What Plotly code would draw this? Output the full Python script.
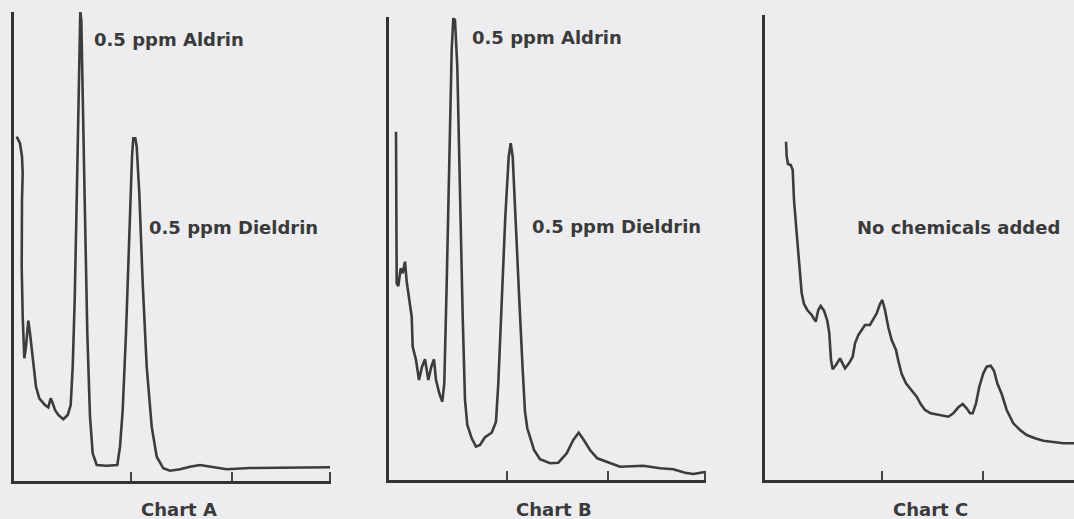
import plotly.graph_objects as go

# Chart A: retention (x) and detector response (y)
a_time = [2.7, 6.0, 8.0, 8.7, 8.0, 7.7, 8.7, 10.3, 12, 14.3, 16, 17.7, 19.3, 22, 25.3, 31, 34.3, 36.7,
          38.7, 41, 44.3, 49.3, 53.7, 56.7, 58.7, 60.7, 62.7, 64.3, 65.7, 66.3, 67.3, 68.7, 70.7, 73.3,
          76, 78.7, 82.7, 92.7, 103.3, 106, 108.7, 112, 115.3, 118, 119.3, 121.3, 122.7, 125.3, 128.7,
          132.7, 137.7, 142.7, 149.3, 156, 166, 176, 186, 196, 212.7, 236, 269.3, 316]
a_resp = [344.3, 337.7, 324.3, 307.7, 281, 214.3, 164.3, 122.7, 134.3, 160.3, 147.7, 132.7, 114.3, 94.3,
          82.7, 76, 73.7, 82.7, 77.7, 71, 66, 61.7, 66, 76, 114.3, 181, 281, 381, 447.7, 469.3, 461,
          397.7, 281, 147.7, 64.3, 27.7, 16, 15.3, 16, 34.3, 71, 147.7, 247.7, 324.3, 342.7, 342.7,
          334.3, 287.7, 197.7, 114.3, 54.3, 24.3, 12.7, 10.3, 11.7, 14.3, 16, 14.3, 11.7, 13, 13.3, 13.7]

# Chart B
b_time = [7, 7, 7, 7.7, 9.3, 11.7, 13.7, 16, 17.7, 20.3, 22.7, 23.7, 27, 30, 33, 36, 39.3, 42.3, 45, 47,
          50.3, 53.3, 55.3, 57.7, 60.3, 62.7, 64.3, 66, 68.3, 71, 73.7, 76, 78.3, 82.7, 87, 91, 96, 102.7,
          107, 109.3, 112.7, 116.3, 119.7, 121.7, 123.7, 127, 130.3, 133.7, 136, 138.3, 141.7, 145, 151,
          161, 169.3, 177.7, 184.3, 189.7, 194.3, 201, 208.3, 217.7, 231, 254.3, 271, 284.3, 296, 304.3, 316]
b_resp = [348.3, 280, 216.7, 196.7, 194, 211.7, 206.7, 218.3, 198.3, 180, 163.3, 133.3, 120, 100, 113.3,
          120.7, 100, 113.3, 120.7, 100, 86.7, 78.3, 96.7, 196.7, 330, 430, 461.7, 460, 413.3, 280, 163.3,
          80, 55, 41.7, 33.3, 35, 42.7, 47.3, 58.3, 96.7, 180, 263.3, 323.3, 336.7, 323.3, 246.7, 180,
          110, 68.3, 51.7, 41.7, 30, 20.7, 16.7, 17.3, 26.7, 40, 47.3, 40.7, 30, 21.7, 18.3, 13.3, 14.3,
          11.7, 10.7, 7.3, 6, 8]

# Chart C
c_time = [21, 21.7, 23, 25.7, 27.7, 29, 31.7, 34.3, 36.7, 39, 42.3, 46.7, 50.7, 53.3, 55.7, 59, 62.3,
          64.3, 66, 67.7, 71, 75, 77.7, 80, 84, 87.7, 90, 93.3, 96.7, 100, 105, 108.3, 111.7, 115, 117.3,
          120, 123.3, 126.7, 131, 133.3, 136.7, 141, 146.7, 151.7, 155.7, 160, 165.7, 175, 183.3, 188.3,
          193.3, 197.7, 201.7, 205, 207.7, 211, 214.3, 218.3, 221.7, 225.7, 229, 232.3, 236.7, 241.7,
          248.3, 255, 261.7, 270, 278.3, 288.3, 298.3, 309]
c_resp = [338.3, 323.3, 316, 315, 310, 280, 246.7, 213.3, 186.7, 176, 170, 165, 158.3, 170, 174, 169.3,
          159.3, 146.7, 120, 110.7, 115, 121.7, 116, 111.7, 116.7, 123.3, 136.7, 145, 150, 155, 155,
          160.7, 166.7, 176, 180, 170, 152.7, 140, 130, 119.3, 106, 96.7, 90, 83.3, 76, 70, 66.7, 64.7,
          63.3, 66.7, 72.7, 76, 71.7, 66.7, 66.7, 76.7, 93.3, 106.7, 113.3, 114.3, 109.3, 96.7, 86,
          70, 56.7, 50, 45, 41.7, 39.3, 38, 36.7, 36.7]

a_ticks = [117, 218, 315.5]
b_ticks = [117.7, 219.3, 315.5]
c_ticks = [117.3, 218.3]

chart_titles = ["Chart A", "Chart B", "Chart C"]
peak_labels = [
    ("x", "y", 78, 441, "0.5 ppm Aldrin"),
    ("x", "y", 133, 254, "0.5 ppm Dieldrin"),
    ("x2", "y2", 81, 442, "0.5 ppm Aldrin"),
    ("x2", "y2", 141, 253, "0.5 ppm Dieldrin"),
    ("x3", "y3", 90, 253, "No chemicals added"),
]

W, H = 1074, 519
BG = "#ededf0"
INK = "#3a3a3a"
LINE = "#3c3c3c"

fig = go.Figure()
for t, r, xa, ya in [(a_time, a_resp, "x", "y"), (b_time, b_resp, "x2", "y2"), (c_time, c_resp, "x3", "y3")]:
    fig.add_trace(go.Scatter(x=t, y=r, mode="lines", xaxis=xa, yaxis=ya,
                             line=dict(color=LINE, width=2.6), showlegend=False, hoverinfo="skip"))


def xdom(left_px, right_px):
    return [left_px / W, min(right_px / W, 1.0)]


def ydom(bottom_px, top_px):
    return [(H - bottom_px) / H, (H - top_px) / H]


axis_common = dict(showline=True, linewidth=3, linecolor="#333333", showgrid=False, zeroline=False,
                   showticklabels=False)

xa_common = dict(axis_common, ticks="inside", ticklen=9, tickwidth=2, tickcolor="#444444")

fig.update_layout(
    width=W, height=H,
    margin=dict(l=0, r=0, t=0, b=0),
    paper_bgcolor=BG, plot_bgcolor=BG,
    xaxis=dict(xa_common, domain=xdom(14, 331), range=[0, 317], tickvals=a_ticks, anchor="y"),
    yaxis=dict(axis_common, domain=ydom(481, 12), range=[0, 469], anchor="x", ticks=""),
    xaxis2=dict(xa_common, domain=xdom(389, 706), range=[0, 317], tickvals=b_ticks, anchor="y2"),
    yaxis2=dict(axis_common, domain=ydom(480, 17), range=[0, 463], anchor="x2", ticks=""),
    xaxis3=dict(xa_common, domain=xdom(765, 1074), range=[0, 309], tickvals=c_ticks, anchor="y3"),
    yaxis3=dict(axis_common, domain=ydom(480, 15), range=[0, 465], anchor="x3", ticks=""),
)

font = dict(family="DejaVu Sans", size=18, color=INK)
for xr, yr, x, y, txt in peak_labels:
    fig.add_annotation(xref=xr, yref=yr, x=x, y=y, text="<b>%s</b>" % txt, showarrow=False,
                       xanchor="left", yanchor="middle", font=font)

for xr, title in zip(["x", "x2", "x3"], chart_titles):
    fig.add_annotation(xref=xr, yref="paper", x=165, y=(H - 509) / H, text="<b>%s</b>" % title,
                       showarrow=False, xanchor="center", yanchor="middle", font=font)

fig.write_html(
    "out.html",
    config={"displayModeBar": False, "staticPlot": True},
    post_script="document.body.style.margin='0';document.body.style.overflow='hidden';"
                "document.body.style.background='%s';" % BG,
)
